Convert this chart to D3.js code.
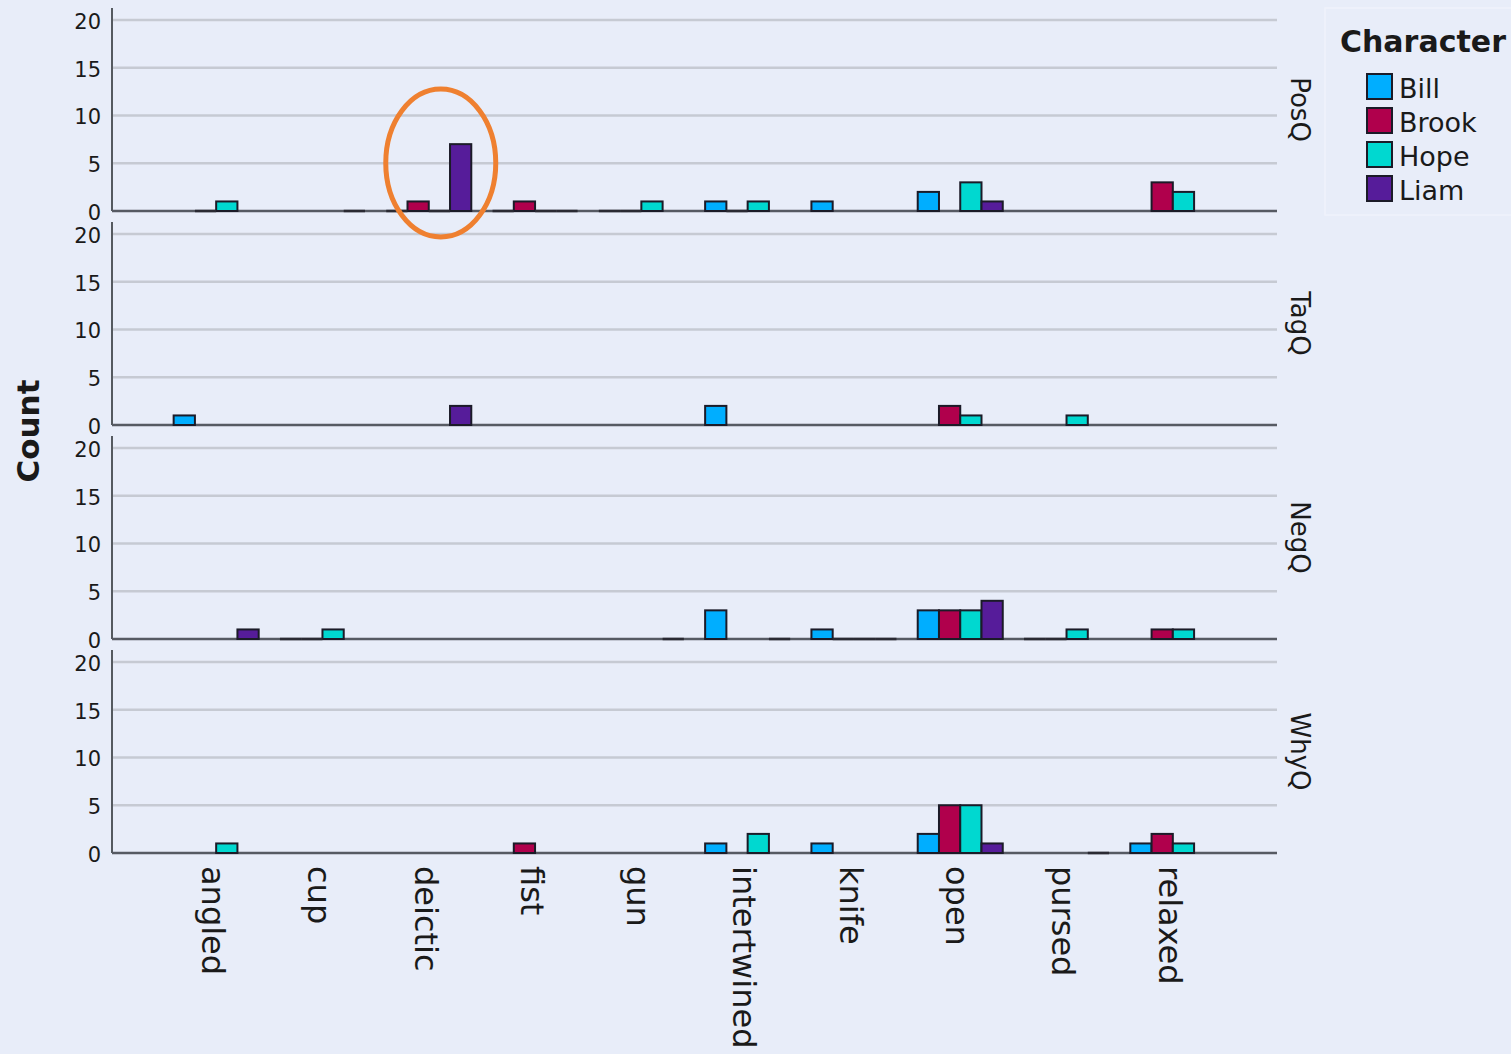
<!DOCTYPE html>
<html>
<head>
<meta charset="utf-8">
<script src="https://cdn.jsdelivr.net/npm/d3@7"></script>
<style>
  html, body { margin: 0; padding: 0; background: #e8edf9; }
  svg { display: block; }
  text { font-family: "DejaVu Sans", sans-serif; fill: #1a1a1a; }
</style>
</head>
<body>
<svg id="chart" width="1511" height="1054"></svg>
<script>
// ---------- data ----------
const categories = ["angled","cup","deictic","fist","gun","intertwined","knife","open","pursed","relaxed"];
const characters = ["Bill","Brook","Hope","Liam"];
const panels = ["PosQ","TagQ","NegQ","WhyQ"];
const yTicks = [0,5,10,15,20];
const colors = ["#00aeff","#b0004c","#00d8d0","#561c9a"];

// null = no bar, 0 = flat zero bar
const posQ_Bill  = [null,null,0,0,0,1,1,2,null,null];
const posQ_Brook = [0,null,1,1,0,0,null,null,null,3];
const posQ_Hope  = [1,null,0,0,1,1,null,3,null,2];
const posQ_Liam  = [null,0,7,0,null,null,null,1,null,null];

const tagQ_Bill  = [1,null,null,null,null,2,null,null,null,null];
const tagQ_Brook = [null,null,null,null,null,null,null,2,null,null];
const tagQ_Hope  = [null,null,null,null,null,null,null,1,1,null];
const tagQ_Liam  = [null,null,2,null,null,null,null,null,null,null];

const negQ_Bill  = [null,0,null,null,null,3,1,3,0,null];
const negQ_Brook = [null,0,null,null,null,null,0,3,0,1];
const negQ_Hope  = [null,1,null,null,null,null,0,3,1,1];
const negQ_Liam  = [1,null,null,null,0,0,0,4,null,null];

const whyQ_Bill  = [null,null,null,null,null,1,1,2,null,1];
const whyQ_Brook = [null,null,null,1,null,null,null,5,null,2];
const whyQ_Hope  = [1,null,null,null,null,2,null,5,null,1];
const whyQ_Liam  = [null,null,null,null,null,null,null,1,0,null];

const panelData = [
  [posQ_Bill, posQ_Brook, posQ_Hope, posQ_Liam],
  [tagQ_Bill, tagQ_Brook, tagQ_Hope, tagQ_Liam],
  [negQ_Bill, negQ_Brook, negQ_Hope, negQ_Liam],
  [whyQ_Bill, whyQ_Brook, whyQ_Hope, whyQ_Liam]
];

// ---------- layout ----------
const svg = d3.select("#chart");
const xLeft = 112, xRight = 1277;
const panelStep = 214, base0 = 211, top20 = 20;

const x0 = d3.scaleBand().domain(categories).range([xLeft, xRight]).paddingInner(0.2).paddingOuter(0.58);
const x1 = d3.scaleBand().domain(characters).range([0, x0.bandwidth()]);
const color = d3.scaleOrdinal().domain(characters).range(colors);

panels.forEach((p, pi) => {
  const off = pi * panelStep;
  const y = d3.scaleLinear().domain([0, 20]).range([base0 + off, top20 + off]);
  const g = svg.append("g");

  // gridlines
  g.selectAll("line.grid").data(yTicks.filter(t => t > 0)).join("line")
    .attr("x1", xLeft).attr("x2", xRight)
    .attr("y1", d => y(d)).attr("y2", d => y(d))
    .attr("stroke", "#c6cad3").attr("stroke-width", 2.5);

  // y axis
  const axis = d3.axisLeft(y).tickValues(yTicks).tickSize(0).tickPadding(11);
  const ag = g.append("g").attr("transform", `translate(${xLeft},0)`).call(axis);
  ag.select(".domain").remove();
  ag.selectAll("text").attr("font-size", 21).attr("font-family", "DejaVu Sans").attr("fill", "#1a1a1a").attr("dy", "0.4em");
  g.append("line").attr("x1", xLeft).attr("x2", xLeft)
    .attr("y1", y(20) - 12).attr("y2", y(0))
    .attr("stroke", "#555a60").attr("stroke-width", 2);

  // baseline
  g.append("line").attr("x1", xLeft).attr("x2", xRight)
    .attr("y1", y(0)).attr("y2", y(0))
    .attr("stroke", "#565a63").attr("stroke-width", 2.5);

  // bars
  const series = panelData[pi];
  const rows = [];
  series.forEach((vals, ci) => vals.forEach((v, ki) => {
    if (v !== null) rows.push({cat: categories[ki], ch: characters[ci], v});
  }));
  g.selectAll("rect.bar").data(rows.filter(d => d.v > 0)).join("rect")
    .attr("x", d => x0(d.cat) + x1(d.ch))
    .attr("y", d => y(d.v))
    .attr("width", x1.bandwidth())
    .attr("height", d => y(0) - y(d.v))
    .attr("fill", d => color(d.ch))
    .attr("stroke", "#1b1b28").attr("stroke-width", 2);
  g.selectAll("line.zero").data(rows.filter(d => d.v === 0)).join("line")
    .attr("x1", d => x0(d.cat) + x1(d.ch))
    .attr("x2", d => x0(d.cat) + x1(d.ch) + x1.bandwidth())
    .attr("y1", y(0)).attr("y2", y(0))
    .attr("stroke", "#2a2a33").attr("stroke-width", 2.5);

  // facet label
  g.append("text")
    .attr("transform", `translate(1300,${(y(0) + y(20) - 12) / 2}) rotate(90)`)
    .attr("text-anchor", "middle").attr("dy", "0.35em")
    .attr("font-size", 26).text(p);
});

// category labels
svg.selectAll("text.cat").data(categories).join("text")
  .attr("class", "cat")
  .attr("transform", d => `translate(${x0(d) + x0.bandwidth() / 2 - 3},866) rotate(90)`)
  .attr("text-anchor", "start").attr("dy", "0.35em")
  .attr("font-size", 32).text(d => d);

// y title
svg.append("text")
  .attr("transform", "translate(28,431) rotate(-90)")
  .attr("text-anchor", "middle").attr("dy", "0.35em")
  .attr("font-size", 31).attr("font-weight", "bold").text("Count");

// orange highlight ellipse
svg.append("ellipse")
  .attr("cx", x0("deictic") + x0.bandwidth() / 2 + 12).attr("cy", 163)
  .attr("rx", 55).attr("ry", 74)
  .attr("fill", "none").attr("stroke", "#ef8030").attr("stroke-width", 5);

// legend
const lg = svg.append("g");
lg.append("rect").attr("x", 1325).attr("y", 8).attr("width", 200).attr("height", 207)
  .attr("fill", "none").attr("stroke", "#eff2fb").attr("stroke-width", 1.5);
lg.append("text").attr("x", 1340).attr("y", 52)
  .attr("font-size", 30).attr("font-weight", "bold").text("Character");
const li = lg.selectAll("g.item").data(characters).join("g")
  .attr("transform", (d, i) => `translate(1367,${74 + i * 34})`);
li.append("rect").attr("width", 25).attr("height", 25)
  .attr("fill", d => color(d)).attr("stroke", "#1b1b28").attr("stroke-width", 2);
li.append("text").attr("x", 32).attr("y", 14).attr("dy", "0.36em")
  .attr("font-size", 27).text(d => d);
</script>
</body>
</html>
